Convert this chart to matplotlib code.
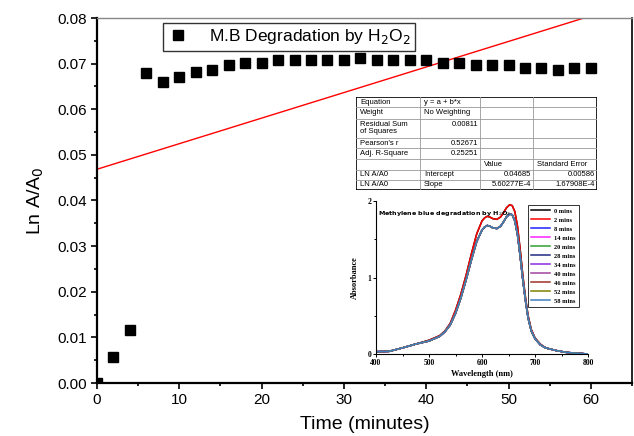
import matplotlib
matplotlib.use("Agg")
import matplotlib.pyplot as plt
from matplotlib.ticker import MultipleLocator

# --- main data: ln(A/A0) vs time ---
tempo = [0, 2, 4, 6, 8, 10, 12, 14, 16, 18, 20, 22, 24, 26, 28, 30,
         32, 34, 36, 38, 40, 42, 44, 46, 48, 50, 52, 54, 56, 58, 60]
ln_a = [0.0, 0.0056, 0.0117, 0.0680, 0.0659, 0.0670, 0.0681, 0.0686,
        0.0697, 0.0702, 0.0702, 0.0707, 0.0707, 0.0707, 0.0707, 0.0707,
        0.0713, 0.0707, 0.0707, 0.0707, 0.0707, 0.0701, 0.0701, 0.0697,
        0.0697, 0.0697, 0.0691, 0.0691, 0.0685, 0.0691, 0.0691]

# linear fit from the table
intercept = 0.04685
slope = 5.60277e-4
fit_x = [0, 65]

# table contents
tabela = [
    ["Equation", "y = a + b*x", "", ""],
    ["Weight", "No Weighting", "", ""],
    ["Residual Sum\nof Squares", "0.00811", "", ""],
    ["Pearson's r", "0.52671", "", ""],
    ["Adj. R-Square", "0.25251", "", ""],
    ["", "", "Value", "Standard Error"],
    ["LN A/A0", "Intercept", "0.04685", "0.00586"],
    ["LN A/A0", "Slope", "5.60277E-4", "1.67908E-4"],
]

# --- inset spectra ---
wl = [400, 425, 450, 475, 500, 510, 520, 530, 540, 550, 560, 570, 580, 590,
      600, 605, 610, 615, 620, 628, 635, 640, 646, 652, 657, 662, 667, 672,
      677, 682, 687, 693, 700, 710, 720, 740, 760, 800]
abs_alto = [0.03, 0.035, 0.08, 0.13, 0.18, 0.21, 0.24, 0.30, 0.40, 0.57,
            0.78, 1.03, 1.31, 1.57, 1.74, 1.78, 1.80, 1.79, 1.77, 1.76,
            1.79, 1.84, 1.91, 1.95, 1.94, 1.86, 1.67, 1.37, 1.03, 0.74,
            0.50, 0.32, 0.21, 0.13, 0.08, 0.045, 0.02, 0.0]
abs_baixo = [0.03, 0.035, 0.08, 0.13, 0.17, 0.20, 0.23, 0.29, 0.38, 0.53,
             0.73, 0.97, 1.23, 1.47, 1.62, 1.66, 1.68, 1.67, 1.65, 1.64,
             1.67, 1.72, 1.79, 1.83, 1.82, 1.74, 1.56, 1.28, 0.97, 0.70,
             0.47, 0.30, 0.20, 0.12, 0.08, 0.045, 0.02, 0.0]
tempos_espectro = ["0 mins", "2 mins", "8 mins", "14 mins", "20 mins", "28 mins",
                   "34 mins", "40 mins", "46 mins", "52 mins", "58 mins"]
cores_espectro = ["black", "#ff0000", "#2020ff", "#ff20ff", "#30a030", "#202a80",
                  "#8a2be2", "#a0449e", "#a0302a", "#808000", "#3f7fbf"]

W, H = 634, 436
fig = plt.figure(figsize=(W / 100, H / 100), dpi=100)
plt.rcParams['font.family'] = ['Liberation Sans', 'DejaVu Sans']

def px_box(l, t, r, b):
    return [l / W, 1 - b / H, (r - l) / W, (b - t) / H]

ax = fig.add_axes(px_box(97, 18, 632, 383))
ax.plot(tempo, ln_a, 's', color='black', ms=6.5, clip_on=True, zorder=3,
        label='M.B Degradation by H$_2$O$_2$')
ax.plot(fit_x, [intercept + slope * x for x in fit_x], color='red', lw=1)
ax.set_xlim(0, 65)
ax.set_ylim(0, 0.08)
ax.xaxis.set_major_locator(MultipleLocator(10))
ax.xaxis.set_minor_locator(MultipleLocator(5))
ax.yaxis.set_major_locator(MultipleLocator(0.01))
ax.yaxis.set_minor_locator(MultipleLocator(0.005))
ax.yaxis.set_major_formatter(plt.FormatStrFormatter('%.2f'))
ax.tick_params(which='both', direction='out', labelsize=11, width=1.2)
ax.tick_params(which='major', length=4)
ax.tick_params(which='minor', length=2.5)
for lado in ['left', 'bottom']:
    ax.spines[lado].set_linewidth(1.6)
ax.spines['right'].set_linewidth(1.2)
ax.spines['top'].set_color('#888888')
ax.spines['top'].set_linewidth(1)
ax.set_xlabel('Time (minutes)', fontsize=14, labelpad=6)
ax.set_ylabel('Ln A/A$_0$', fontsize=14, labelpad=8)
leg = ax.legend(loc='upper left', bbox_to_anchor=(163 / W, 1 - 23 / H),
                bbox_transform=fig.transFigure, fontsize=12.5, frameon=True,
                fancybox=False, edgecolor='black', handletextpad=1.2,
                borderpad=0.25, handlelength=1.2, borderaxespad=0)
leg.get_frame().set_linewidth(1)

# --- table drawn in pixel coordinates ---
tx = fig.add_axes(px_box(356, 97, 597, 190))
tx.set_xlim(356, 597)
tx.set_ylim(190, 97)
tx.axis('off')
col_x = [356, 420, 480, 533, 597]
row_y = [97, 107.3, 119, 138.3, 148.3, 159, 170, 180, 190]
tx.add_patch(plt.Rectangle((356, 97), 241, 93, facecolor='white', edgecolor='none'))
for cx in col_x[1:-1]:
    tx.plot([cx, cx], [97, 190], color='#999999', lw=0.6)
for ry in row_y[1:-1]:
    tx.plot([356, 597], [ry, ry], color='#999999', lw=0.6)
tx.add_patch(plt.Rectangle((356, 97), 241, 93, facecolor='none',
                           edgecolor='black', lw=1.2))
for i, linha in enumerate(tabela):
    ym = row_y[i] + 1.5
    for j, txt in enumerate(linha):
        if not txt:
            continue
        numerico = txt[0].isdigit() and j > 0
        if numerico:
            tx.text(col_x[j + 1] - 2, ym, txt, ha='right', va='top', fontsize=5.5)
        else:
            tx.text(col_x[j] + 4, ym, txt, ha='left', va='top', fontsize=5.5,
                    linespacing=1.1)

# --- inset ---
ins = fig.add_axes(px_box(376, 201, 588, 354))
for nome, cor in zip(tempos_espectro, cores_espectro):
    dados = abs_alto if nome in ("0 mins", "2 mins") else abs_baixo
    ins.plot(wl, dados, color=cor, lw=1.1, label=nome, solid_joinstyle='round')
ins.set_xlim(400, 800)
ins.set_ylim(0, 2)
ins.spines['top'].set_visible(False)
ins.spines['right'].set_visible(False)
ins.xaxis.set_major_locator(MultipleLocator(100))
ins.xaxis.set_minor_locator(MultipleLocator(50))
ins.yaxis.set_major_locator(MultipleLocator(1))
ins.yaxis.set_minor_locator(MultipleLocator(0.5))
ins.tick_params(which='both', direction='out', labelsize=5.5, pad=1, width=0.7)
ins.tick_params(which='major', length=2.5)
ins.tick_params(which='minor', length=1.5)
for lbl in ins.get_xticklabels() + ins.get_yticklabels():
    lbl.set_family('Liberation Serif')
    lbl.set_fontweight('bold')
ins.set_xlabel('Wavelength (nm)', family='Liberation Serif', fontweight='bold',
               fontsize=6, labelpad=2)
ins.set_ylabel('Absorbance', family='Liberation Serif', fontweight='bold',
               fontsize=6, labelpad=6)
ins.text(0.01, 0.95, 'Methylene blue degradation by H$_2$O$_2$',
         transform=ins.transAxes, fontsize=4.6, fontweight='bold',
         family='DejaVu Sans', va='top', ha='left')
lg = ins.legend(loc='upper right', bbox_to_anchor=(1.0 - 9 / 212, 1 - 4 / 153),
                prop={'family': 'Liberation Serif', 'weight': 'bold', 'size': 4.6},
                frameon=True, fancybox=False, edgecolor='black', handlelength=3,
                handletextpad=0.6, labelspacing=0.55, borderpad=0.5,
                borderaxespad=0)
lg.get_frame().set_linewidth(0.7)

fig.savefig('out.png', dpi=100)
